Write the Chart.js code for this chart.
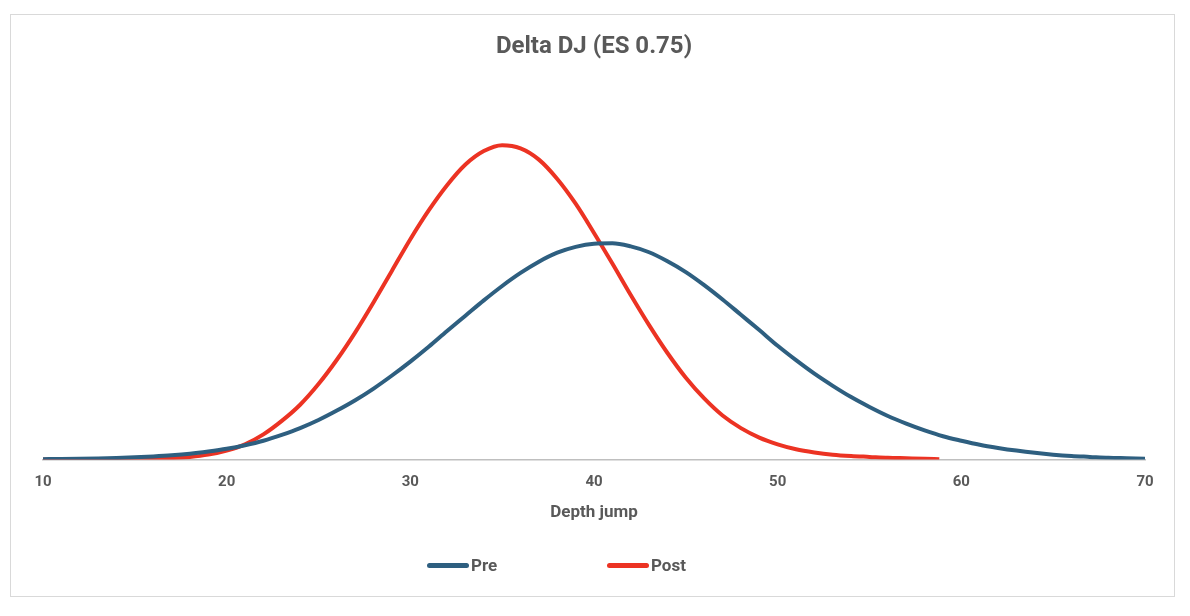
<!DOCTYPE html>
<html>
<head>
<meta charset="utf-8">
<script src="https://cdn.jsdelivr.net/npm/chart.js@4.4.1/dist/chart.umd.min.js"></script>
<style>
  body { margin: 0; background: #fff; }
  #wrap { position: relative; width: 1190px; height: 616px; }
  #frame { position: absolute; left: 10px; top: 14px; width: 1163px; height: 581px; border: 1.5px solid #d9d9d9; }
  #chartBox { position: absolute; left: 0; top: 0; width: 1190px; height: 616px; }
  .legend-item { position: absolute; top: 555px; height: 20px; display: flex; align-items: center;
    font: bold 17px Roboto, sans-serif; color: #595959; }
  .legend-line { display: inline-block; width: 42px; height: 5px; border-radius: 3px; margin-right: 2px; }
</style>
</head>
<body>
<div id="wrap">
  <div id="frame"></div>
  <div id="chartBox"><canvas id="lineChart"></canvas></div>
  <div id="legend-container"></div>
</div>
<script>
// x positions (Depth jump) and curve heights
var preX = [10, 11, 12, 13, 14, 15, 16, 17, 18, 19, 20, 21, 22, 23, 24, 25, 26, 27, 28, 29,
            30, 31, 32, 33, 34, 35, 36, 37, 38, 39, 40, 41, 42, 43, 44, 45, 46, 47, 48, 49,
            50, 51, 52, 53, 54, 55, 56, 57, 58, 59, 60, 61, 62, 63, 64, 65, 66, 67, 68, 69, 70];
var preY = [0.0001, 0.00013, 0.00018, 0.00025, 0.00035, 0.0005, 0.0007, 0.00095, 0.0013, 0.0018,
            0.0024, 0.0032, 0.0042, 0.0055, 0.0070, 0.0088, 0.0109, 0.0132, 0.0158, 0.0187,
            0.0218, 0.0251, 0.0286, 0.0320, 0.0354, 0.0386, 0.0415, 0.0440, 0.0460, 0.0473,
            0.0480, 0.0481, 0.0474, 0.0461, 0.0441, 0.0417, 0.0388, 0.0356, 0.0322, 0.0288,
            0.0253, 0.0221, 0.0191, 0.0164, 0.0139, 0.0117, 0.0097, 0.0080, 0.0065, 0.0052,
            0.0042, 0.0033, 0.0026, 0.0020, 0.0015, 0.0011, 0.0008, 0.0006, 0.0004, 0.0003, 0.0002];

var postX = [10, 11, 12, 13, 14, 15, 16, 17, 18, 19, 20, 21, 22, 23, 24, 25, 26, 27, 28, 29,
             30, 31, 32, 33, 34, 35, 36, 37, 38, 39, 40, 41, 42, 43, 44, 45, 46, 47, 48, 49,
             50, 51, 52, 53, 54, 55, 56, 57, 58, 58.8];
var postY = [0.0000, 0.00001, 0.00002, 0.00004, 0.00007, 0.00012, 0.0002, 0.00035, 0.0006, 0.0011,
             0.0020, 0.0034, 0.0056, 0.0086, 0.0122, 0.0168, 0.0222, 0.0283, 0.0350, 0.0420,
             0.0490, 0.0554, 0.0610, 0.0656, 0.0686, 0.0699, 0.0692, 0.0667, 0.0624, 0.0569,
             0.0504, 0.0436, 0.0366, 0.0299, 0.0237, 0.0182, 0.0136, 0.0098, 0.0070, 0.0049,
             0.0034, 0.0023, 0.0016, 0.0011, 0.0008, 0.0006, 0.0004, 0.0003, 0.0002, 0.0001];

var xTicks = [10, 20, 30, 40, 50, 60, 70];

var preColor = '#2E5F80';
var postColor = '#EC3323';
var textColor = '#595959';
var fontFamily = 'Roboto, sans-serif';

function toPoints(xs, ys) {
  return xs.map(function (x, i) { return { x: x, y: ys[i] }; });
}

var ctx = document.getElementById('lineChart').getContext('2d');
var myLineChart = new Chart(ctx, {
  type: 'line',
  data: {
    datasets: [
      {
        label: 'Pre',
        data: toPoints(preX, preY),
        borderColor: preColor,
        backgroundColor: preColor,
        borderWidth: 4,
        cubicInterpolationMode: 'monotone',
      },
      {
        label: 'Post',
        data: toPoints(postX, postY),
        borderColor: postColor,
        backgroundColor: postColor,
        borderWidth: 4,
        cubicInterpolationMode: 'monotone',
      }
    ]
  },
  options: {
    responsive: true,
    maintainAspectRatio: false,
    animation: false,
    layout: {
      padding: { left: 43, right: 45, top: 0, bottom: 93 }
    },
    scales: {
      x: {
        type: 'linear',
        min: xTicks[0],
        max: xTicks[xTicks.length - 1],
        afterBuildTicks: function (axis) {
          axis.ticks = xTicks.map(function (v) { return { value: v }; });
        },
        grid: { display: false, drawTicks: false },
        border: { display: true, color: '#BFBFBF', width: 1.5 },
        ticks: {
          padding: 14,
          color: textColor,
          font: { family: fontFamily, size: 15, weight: 'bold' }
        },
        title: {
          display: true,
          text: 'Depth jump',
          color: textColor,
          padding: { top: -3, bottom: 0 },
          font: { family: fontFamily, size: 17, weight: 'bold' }
        }
      },
      y: {
        display: false,
        min: 0,
        max: 0.08
      }
    },
    plugins: {
      legend: { display: false },
      tooltip: { enabled: false },
      title: {
        display: true,
        text: 'Delta DJ (ES 0.75)',
        color: textColor,
        padding: { top: 33, bottom: 38 },
        font: { family: fontFamily, size: 24, weight: 'bold' }
      }
    },
    elements: {
      point: {
        radius: 0 // no markers on the curves
      }
    }
  }
});

// legend built by hand, like the original
var legendContainer = document.getElementById('legend-container');
legendContainer.innerHTML =
  '<div class="legend-item" style="left:427px;"><span class="legend-line" style="background-color:' + preColor + ';"></span>Pre</div>' +
  '<div class="legend-item" style="left:607px;"><span class="legend-line" style="background-color:' + postColor + ';"></span>Post</div>';
</script>
</body>
</html>
